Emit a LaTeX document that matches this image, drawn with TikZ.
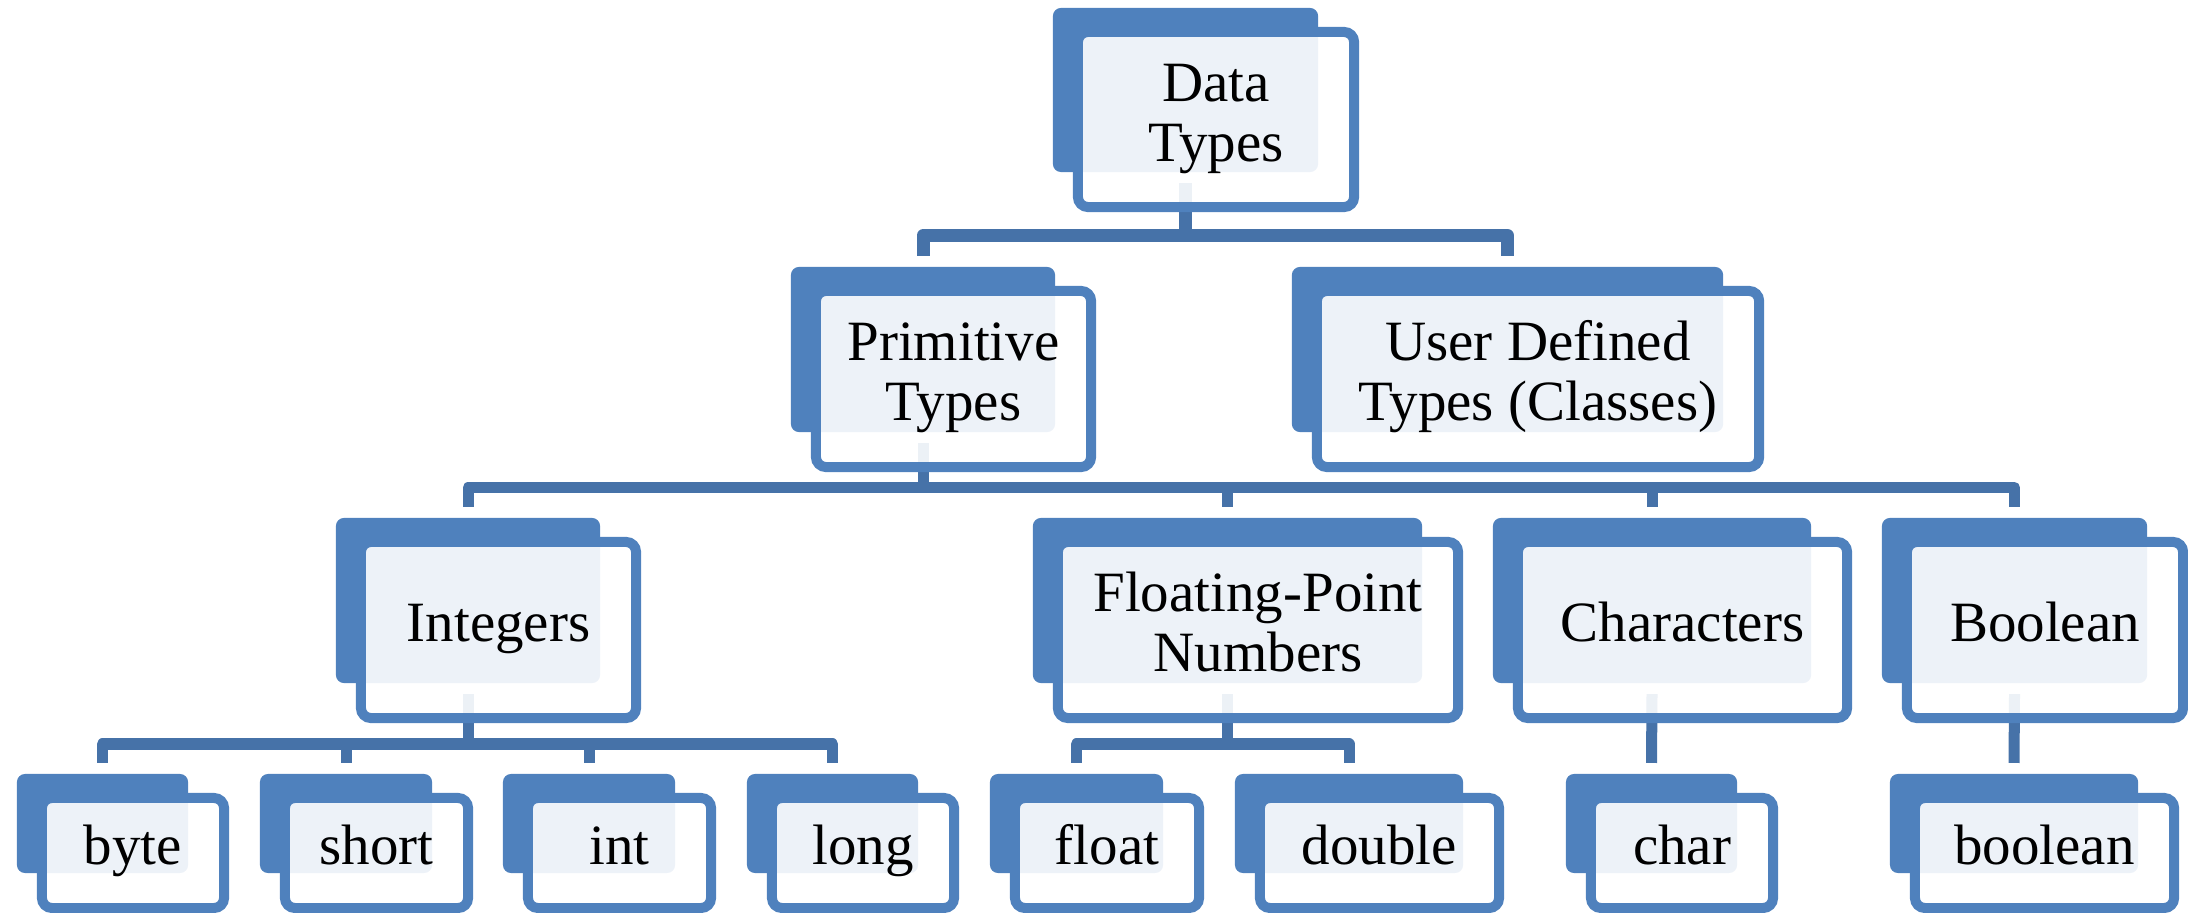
\documentclass[tikz,border=0pt]{standalone}
\usepackage{fontspec}
\setmainfont{Liberation Serif}
\definecolor{boxblue}{RGB}{79,129,189}
\definecolor{linkblue}{RGB}{70,114,168}
\tikzset{
  backbox/.style={rectangle, rounded corners=0.08cm, fill=boxblue, draw=none,
    inner sep=0pt, outer sep=0pt},
  frontbox/.style={rectangle, rounded corners=0.1cm, draw=boxblue, line width=0.1cm,
    fill=white, fill opacity=0.9, text opacity=1, text=black,
    inner sep=0pt, outer sep=0pt, align=center,
    font=\fontsize{16.2pt}{17.07pt}\selectfont},
  oneline/.style={text height=0.662em, text depth=0pt},
  twoline/.style={text height={0.662em+17.07pt}, text depth=0pt},
  conn/.style={draw=linkblue, line width=0.11cm, line join=round},
}
\begin{document}
\begin{tikzpicture}[x=0.01cm, y=-0.01cm]
\useasboundingbox (0,0) rectangle (2188,913);

% back plates
\node[backbox, minimum width=2.65cm, minimum height=1.64cm] (dt-b)     at (1185.5,90)    {};
\node[backbox, minimum width=2.64cm, minimum height=1.65cm] (prim-b)   at (923,349.5)    {};
\node[backbox, minimum width=4.31cm, minimum height=1.65cm] (udt-b)    at (1507.5,349.5) {};
\node[backbox, minimum width=2.64cm, minimum height=1.65cm] (ints-b)   at (468,600.5)    {};
\node[backbox, minimum width=3.89cm, minimum height=1.65cm] (fpn-b)    at (1227.5,600.5) {};
\node[backbox, minimum width=3.18cm, minimum height=1.65cm] (chars-b)  at (1652,600.5)   {};
\node[backbox, minimum width=2.65cm, minimum height=1.65cm] (bools-b)  at (2014.5,600.5) {};
\node[backbox, minimum width=1.71cm, minimum height=0.99cm] (byte-b)   at (102.5,823.5)  {};
\node[backbox, minimum width=1.72cm, minimum height=0.99cm] (short-b)  at (346,823.5)    {};
\node[backbox, minimum width=1.72cm, minimum height=0.99cm] (int-b)    at (589,823.5)    {};
\node[backbox, minimum width=1.71cm, minimum height=0.99cm] (long-b)   at (832.5,823.5)  {};
\node[backbox, minimum width=1.73cm, minimum height=0.99cm] (float-b)  at (1076.5,823.5) {};
\node[backbox, minimum width=2.28cm, minimum height=0.99cm] (double-b) at (1349,823.5)   {};
\node[backbox, minimum width=1.71cm, minimum height=0.99cm] (char-b)   at (1651.5,823.5) {};
\node[backbox, minimum width=2.48cm, minimum height=0.99cm] (bool-b)   at (2014,823.5)   {};

% connector buses
\coordinate (bus1) at (1185.5,235.5);
\coordinate (bus2) at (923,487.5);
\coordinate (bus3) at (468,744);
\coordinate (bus4) at (1227.5,744);

\draw[conn, line width=0.13cm] ([yshift=-0.11cm]dt-b.south) -- (bus1);
\draw[conn, line width=0.13cm] ([yshift=0.11cm]prim-b.north) |- (bus1) -| ([yshift=0.11cm]udt-b.north);

\draw[conn] ([yshift=-0.11cm]prim-b.south) -- (bus2);
\draw[conn] ([yshift=0.11cm]ints-b.north) |- (bus2) -| ([yshift=0.11cm]bools-b.north);
\draw[conn] (bus2 -| fpn-b.north) -- ([yshift=0.11cm]fpn-b.north);
\draw[conn] (bus2 -| chars-b.north) -- ([yshift=0.11cm]chars-b.north);

\draw[conn] ([yshift=-0.11cm]ints-b.south) -- (bus3);
\draw[conn] ([yshift=0.11cm]byte-b.north) |- (bus3) -| ([yshift=0.11cm]long-b.north);
\draw[conn] (bus3 -| short-b.north) -- ([yshift=0.11cm]short-b.north);
\draw[conn] (bus3 -| int-b.north) -- ([yshift=0.11cm]int-b.north);

\draw[conn] ([yshift=-0.11cm]fpn-b.south) -- (bus4);
\draw[conn] ([yshift=0.11cm]float-b.north) |- (bus4) -| ([yshift=0.11cm]double-b.north);

\draw[conn] ([yshift=-0.11cm]chars-b.south) -- ([yshift=0.11cm]char-b.north);
\draw[conn] ([yshift=-0.11cm]bools-b.south) -- ([yshift=0.11cm]bool-b.north);

% front cards with labels
\node[frontbox, twoline, minimum width=2.76cm, minimum height=1.75cm] (dt)     at (1216,119.5)  {Data\\Types};
\node[frontbox, twoline, minimum width=2.75cm, minimum height=1.76cm] (prim)   at (953.5,379)   {Primitive\\Types};
\node[frontbox, twoline, minimum width=4.42cm, minimum height=1.76cm] (udt)    at (1538,379)    {User Defined\\Types (Classes)};
\node[frontbox, oneline, minimum width=2.75cm, minimum height=1.76cm] (ints)   at (498.5,630)   {Integers};
\node[frontbox, twoline, minimum width=4.00cm, minimum height=1.76cm] (fpn)    at (1258,630)    {Floating-Point\\Numbers};
\node[frontbox, oneline, minimum width=3.29cm, minimum height=1.76cm] (chars)  at (1682.5,630)  {Characters};
\node[frontbox, oneline, minimum width=2.76cm, minimum height=1.76cm] (bools)  at (2045,630)    {Boolean};
\node[frontbox, oneline, minimum width=1.82cm, minimum height=1.10cm] (byte)   at (133,853)     {byte};
\node[frontbox, oneline, minimum width=1.83cm, minimum height=1.10cm] (short)  at (376.5,853)   {short};
\node[frontbox, oneline, minimum width=1.83cm, minimum height=1.10cm] (int)    at (619.5,853)   {int};
\node[frontbox, oneline, minimum width=1.82cm, minimum height=1.10cm] (long)   at (863,853)     {long};
\node[frontbox, oneline, minimum width=1.84cm, minimum height=1.10cm] (float)  at (1107,853)    {float};
\node[frontbox, oneline, minimum width=2.39cm, minimum height=1.10cm] (double) at (1379.5,853)  {double};
\node[frontbox, oneline, minimum width=1.82cm, minimum height=1.10cm] (char)   at (1682,853)    {char};
\node[frontbox, oneline, minimum width=2.59cm, minimum height=1.10cm] (bool)   at (2044.5,853)  {boolean};
\end{tikzpicture}
\end{document}
